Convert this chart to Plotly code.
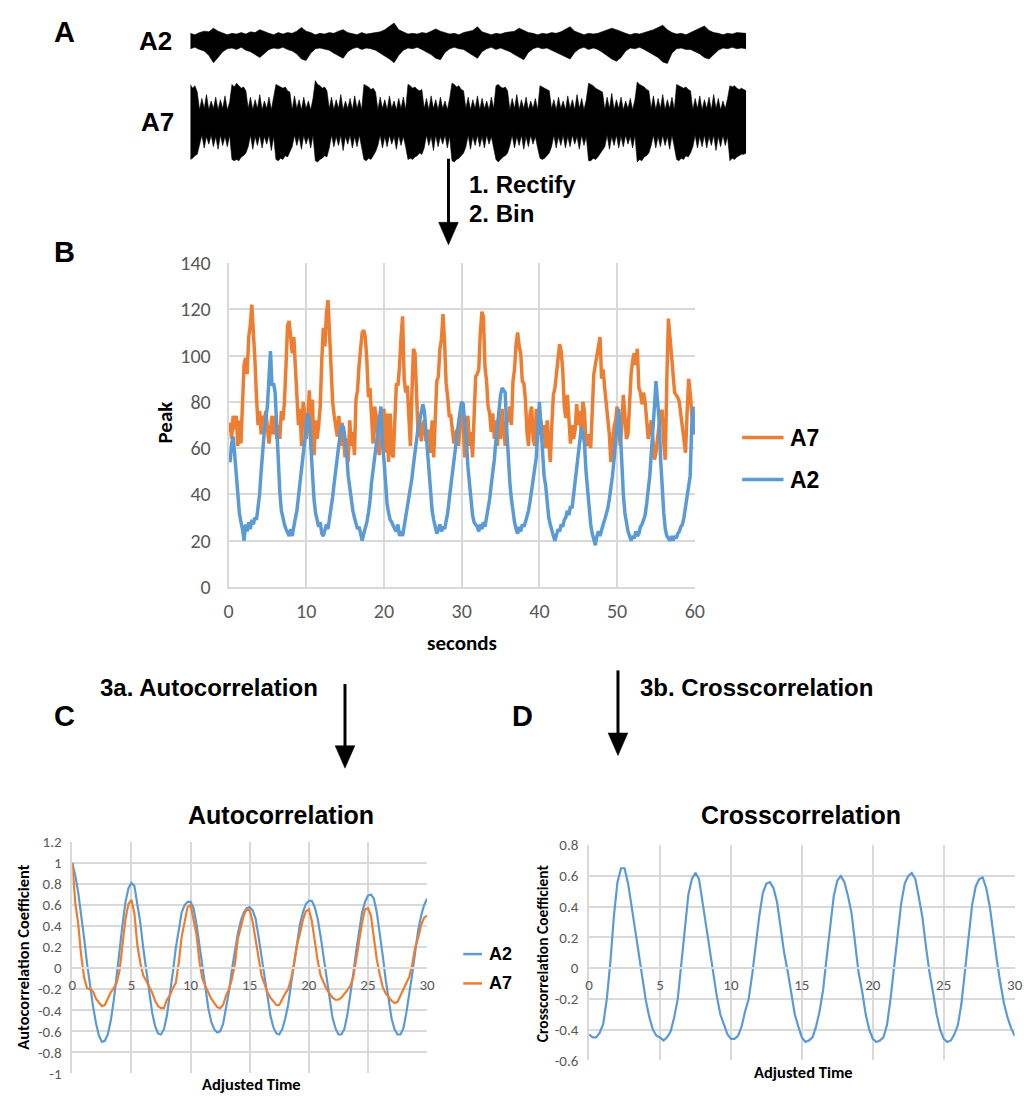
import plotly.graph_objects as go

W, H = 1034, 1105

# ---------------- DATA ----------------
# Panel A: raw-trace envelopes (upper / lower amplitude, arbitrary units)
a2_step = 0.5   # seconds per A2 envelope sample
a2_upper = [1.0, 0.8, 1.1, 1.3, 1.2, 1.7, 1.3, 1.1, 0.8, 1.0,
            0.9, 1.1, 0.9, 1.2, 1.1, 1.5, 1.2, 1.0, 0.8, 1.1,
            0.9, 1.1, 1.0, 1.3, 1.8, 1.3, 1.1, 0.8, 1.0, 0.9,
            1.1, 1.0, 1.3, 1.5, 1.1, 1.0, 0.8, 1.1, 0.9, 1.0,
            1.1, 1.2, 1.5, 1.9, 2.4, 1.5, 1.2, 0.9, 1.0, 0.9,
            1.1, 1.0, 1.3, 1.6, 1.3, 1.1, 0.9, 1.0, 0.8, 1.1,
            1.2, 1.4, 1.9, 1.2, 1.0, 0.8, 1.0, 0.9, 1.1, 1.2,
            1.3, 1.7, 1.4, 1.1, 1.0, 0.8, 1.0, 0.9, 1.1, 1.0,
            1.2, 1.6, 1.9, 1.3, 1.0, 0.8, 1.0, 0.9, 1.0, 1.2,
            1.4, 1.7, 1.5, 1.2, 1.0, 0.8, 1.0, 0.9, 1.1, 1.2,
            1.5, 1.8, 2.1, 1.5, 1.1, 0.9, 1.0, 0.8, 1.1, 1.3,
            1.6, 2.0, 1.4, 1.1, 1.0, 0.8, 1.0, 0.9, 1.1, 1.0,
            1.0]
a2_lower = [-1.1, -0.9, -1.2, -1.4, -2.0, -3.0, -2.3, -1.5, -1.1, -1.0,
            -1.2, -0.9, -1.3, -1.5, -1.9, -2.3, -1.7, -1.2, -1.0, -1.1,
            -0.9, -1.2, -1.4, -1.8, -2.5, -2.7, -1.7, -1.1, -1.0, -1.2,
            -1.3, -1.7, -2.1, -2.4, -1.5, -1.1, -0.9, -1.2, -1.0, -1.1,
            -1.3, -1.6, -2.1, -2.5, -3.0, -2.0, -1.3, -1.0, -1.1, -0.9,
            -1.2, -1.5, -1.9, -2.4, -2.6, -1.6, -1.1, -0.9, -1.1, -1.2,
            -1.5, -2.0, -2.4, -1.5, -1.1, -0.9, -1.2, -1.0, -1.2, -1.5,
            -1.9, -2.3, -2.6, -1.6, -1.1, -0.9, -1.1, -1.0, -1.2, -1.5,
            -1.8, -2.2, -2.5, -1.6, -1.1, -0.9, -1.2, -1.0, -1.2, -1.6,
            -2.0, -2.5, -2.8, -2.3, -1.4, -1.0, -1.1, -0.9, -1.2, -1.5,
            -1.9, -2.3, -2.9, -3.1, -1.7, -1.1, -1.0, -1.2, -1.2, -1.5,
            -1.8, -2.3, -2.5, -1.9, -1.3, -1.0, -1.1, -0.9, -1.1, -1.0,
            -1.1]
a7_step = 0.25  # seconds per A7 envelope sample
a7_upper = [3.0, 2.7, 2.9, 2.4, 1.0, 1.9, 1.1, 2.2, 1.0, 1.7, 1.1, 2.0, 1.0, 1.8, 1.1, 2.1, 1.0, 1.6, 3.0, 2.8,
            3.1, 2.9, 2.7, 2.8, 2.5, 1.1, 2.0, 1.0, 1.8, 1.1, 2.2, 1.0, 1.7, 1.1, 2.0, 1.0, 1.9, 3.0, 2.9, 2.8,
            2.7, 2.8, 2.5, 2.4, 1.0, 2.1, 1.1, 1.8, 1.0, 2.0, 1.1, 1.7, 1.0, 1.9, 3.3, 3.0, 2.9, 2.7, 2.8, 2.5,
            1.1, 2.0, 1.0, 1.8, 1.1, 2.2, 1.0, 1.7, 1.1, 1.9, 1.0, 2.1, 1.1, 1.8, 1.0, 3.0, 2.9, 2.8, 2.6, 2.7,
            2.4, 1.0, 2.0, 1.1, 1.8, 1.0, 2.1, 1.1, 1.7, 1.0, 1.9, 1.1, 2.0, 1.0, 3.0, 2.9, 2.7, 2.8, 2.6, 2.5,
            2.6, 1.1, 1.9, 1.0, 2.1, 1.1, 1.8, 1.0, 2.0, 1.1, 1.7, 1.0, 1.9, 3.1, 3.0, 2.8, 2.9, 2.6, 2.5, 1.1,
            2.0, 1.0, 1.8, 1.1, 2.1, 1.0, 1.9, 1.1, 1.7, 1.0, 2.0, 1.1, 2.9, 3.0, 2.8, 2.7, 2.8, 2.5, 1.0, 1.9,
            1.1, 2.2, 1.0, 1.8, 1.1, 2.0, 1.0, 1.7, 1.1, 1.9, 1.0, 2.9, 2.8, 2.7, 2.6, 2.5, 1.1, 1.8, 1.0, 2.0,
            1.1, 1.7, 1.0, 2.1, 1.1, 1.8, 1.0, 2.2, 1.1, 1.9, 1.0, 1.8, 3.1, 3.0, 2.9, 2.7, 2.6, 2.5, 2.4, 1.0,
            2.0, 1.1, 2.3, 1.0, 1.8, 1.1, 2.0, 1.0, 1.7, 1.1, 1.9, 1.0, 1.8, 3.2, 3.0, 2.9, 2.8, 2.6, 2.5, 1.1,
            2.1, 1.0, 1.9, 1.1, 2.2, 1.0, 1.8, 1.1, 2.0, 1.0, 3.0, 2.9, 2.8, 2.7, 2.8, 2.6, 2.5, 1.0, 1.9, 1.1,
            2.1, 1.0, 1.8, 1.1, 2.0, 1.0, 2.2, 1.1, 1.9, 1.0, 1.7, 1.1, 1.9, 2.9, 2.8, 2.9, 2.7, 2.6, 2.7, 2.6,
            2.5]
a7_lower = [-2.9, -2.8, -2.6, -2.5, -1.8, -1.0, -2.0, -1.1, -1.7, -1.0, -1.9, -1.1, -2.1, -1.0, -1.8, -1.1, -1.9, -1.0, -2.9, -3.0,
            -2.9, -3.0, -2.7, -2.6, -2.4, -1.9, -1.0, -2.1, -1.1, -1.8, -1.0, -2.0, -1.1, -1.7, -1.0, -2.2, -1.1, -2.9, -3.0, -2.8,
            -2.9, -2.6, -2.7, -2.3, -1.9, -1.0, -1.8, -1.1, -2.1, -1.0, -1.7, -1.1, -2.0, -1.0, -3.0, -3.1, -2.9, -2.8, -2.6, -2.7,
            -2.0, -1.0, -1.9, -1.1, -1.8, -1.0, -2.2, -1.1, -1.7, -1.0, -2.0, -1.1, -1.9, -1.0, -1.8, -2.9, -3.0, -2.8, -2.9, -2.6,
            -2.3, -1.8, -1.0, -2.0, -1.1, -1.9, -1.0, -1.7, -1.1, -2.1, -1.0, -1.8, -1.1, -1.9, -2.9, -2.8, -2.9, -2.7, -2.6, -2.4,
            -2.5, -2.0, -1.0, -1.8, -1.1, -2.2, -1.0, -1.9, -1.1, -1.7, -1.0, -2.0, -1.1, -3.0, -3.1, -2.9, -2.8, -2.6, -2.4, -1.9,
            -1.0, -2.1, -1.1, -1.8, -1.0, -1.9, -1.1, -2.0, -1.0, -1.7, -1.1, -1.9, -2.9, -3.1, -2.9, -2.7, -2.6, -2.4, -1.8, -1.0,
            -2.0, -1.1, -1.8, -1.0, -2.1, -1.1, -1.9, -1.0, -1.7, -1.1, -2.0, -2.8, -2.9, -2.8, -2.6, -2.4, -1.9, -1.0, -2.0, -1.1,
            -1.8, -1.0, -2.0, -1.1, -1.9, -1.0, -1.7, -1.1, -2.1, -1.0, -1.8, -1.1, -3.0, -3.0, -2.8, -2.9, -2.7, -2.5, -2.2, -1.9,
            -1.0, -2.1, -1.1, -1.8, -1.0, -2.0, -1.1, -1.9, -1.0, -1.7, -1.1, -2.0, -1.0, -3.1, -2.9, -3.0, -2.7, -2.6, -2.4, -1.8,
            -1.0, -2.0, -1.1, -1.9, -1.0, -1.8, -1.1, -2.1, -1.0, -1.9, -2.9, -3.0, -2.8, -2.9, -2.6, -2.7, -2.4, -1.9, -1.0, -2.0,
            -1.1, -1.9, -1.0, -2.0, -1.1, -1.8, -1.0, -2.2, -1.1, -1.9, -1.0, -1.8, -1.1, -3.0, -2.8, -2.9, -2.7, -2.6, -2.5, -2.5,
            -2.4]

# Panel B: rectified & binned peak, one value per 0.2 s
b_step = 0.2
b_a7 = [67, 71, 64, 74, 68, 74, 61, 72, 62, 80, 96, 99, 92, 108, 113, 122, 112, 98, 82, 70, 76, 66, 74, 72, 76,
        70, 62, 68, 74, 66, 74, 64, 70, 64, 76, 72, 80, 96, 113, 115, 109, 101, 108, 94, 81, 70, 77, 61, 80, 74,
        64, 72, 85, 62, 81, 57, 72, 64, 70, 78, 98, 112, 104, 118, 124, 108, 90, 80, 74, 70, 65, 74, 61, 71, 62,
        56, 64, 54, 72, 61, 67, 57, 81, 85, 96, 104, 110, 111, 108, 98, 82, 86, 74, 62, 78, 74, 62, 57, 77, 60,
        77, 58, 75, 54, 75, 58, 56, 70, 88, 87, 95, 108, 117, 90, 84, 87, 72, 61, 84, 103, 101, 82, 65, 72, 63,
        70, 72, 63, 66, 68, 58, 72, 56, 78, 89, 91, 103, 107, 118, 106, 88, 82, 74, 74, 68, 62, 66, 68, 61, 74,
        80, 70, 56, 67, 74, 61, 67, 56, 70, 91, 92, 94, 110, 119, 117, 95, 89, 78, 75, 67, 75, 64, 72, 61, 74,
        64, 77, 67, 61, 72, 72, 78, 70, 89, 94, 105, 110, 104, 101, 89, 88, 81, 67, 61, 75, 78, 64, 61, 77, 67,
        66, 72, 64, 70, 60, 72, 62, 54, 70, 83, 86, 92, 100, 105, 102, 94, 78, 73, 83, 74, 62, 70, 64, 68, 79,
        70, 76, 66, 80, 76, 62, 61, 66, 60, 82, 92, 96, 100, 104, 108, 90, 94, 86, 80, 75, 66, 54, 62, 69, 72,
        78, 70, 61, 70, 83, 74, 64, 66, 80, 92, 98, 101, 96, 103, 86, 84, 79, 84, 80, 72, 64, 68, 72, 64, 55,
        58, 66, 70, 76, 76, 62, 55, 90, 116, 108, 100, 92, 84, 83, 82, 80, 74, 69, 62, 58, 75, 90, 84, 76, 66,
        75]
b_a2 = [57, 54, 62, 65, 57, 48, 40, 32, 28, 25, 20, 27, 24, 28, 25, 29, 27, 30, 29, 34, 40, 50, 60, 67, 73,
        78, 90, 102, 87, 88, 84, 68, 52, 41, 33, 29, 27, 25, 23, 22, 25, 22, 26, 29, 33, 39, 45, 50, 56, 61,
        68, 75, 72, 61, 47, 38, 32, 29, 26, 28, 23, 22, 25, 27, 25, 29, 33, 39, 45, 51, 56, 63, 67, 70, 69,
        64, 58, 48, 42, 36, 33, 30, 27, 25, 26, 23, 20, 23, 25, 28, 32, 37, 45, 50, 55, 61, 66, 72, 78, 62,
        55, 43, 36, 32, 29, 28, 26, 25, 24, 27, 22, 24, 22, 26, 30, 33, 37, 42, 47, 53, 59, 66, 69, 72, 75,
        79, 76, 67, 55, 46, 38, 33, 29, 26, 23, 25, 27, 24, 26, 25, 28, 32, 38, 43, 48, 54, 60, 66, 72, 76,
        80, 79, 70, 64, 52, 44, 36, 31, 28, 27, 26, 24, 27, 25, 28, 26, 30, 33, 38, 44, 49, 55, 63, 70, 77,
        83, 86, 85, 84, 68, 55, 45, 38, 32, 28, 25, 23, 26, 24, 27, 26, 28, 30, 33, 37, 42, 46, 50, 56, 68,
        80, 70, 58, 48, 44, 36, 30, 27, 24, 22, 20, 23, 25, 24, 27, 26, 29, 30, 33, 31, 35, 34, 40, 45, 52,
        58, 64, 69, 66, 62, 50, 41, 33, 27, 23, 20, 18, 22, 24, 22, 25, 27, 29, 31, 34, 38, 42, 48, 55, 62,
        72, 77, 68, 50, 40, 32, 27, 24, 22, 20, 22, 21, 24, 22, 23, 26, 27, 29, 31, 36, 42, 48, 58, 66, 78,
        89, 80, 72, 55, 41, 32, 25, 22, 21, 20, 22, 20, 22, 21, 23, 24, 26, 27, 30, 35, 40, 45, 48, 70, 78,
        66]
b_xticks = [0, 10, 20, 30, 40, 50, 60]
b_yticks = [0, 20, 40, 60, 80, 100, 120, 140]

# Panel C: autocorrelation, one value per 0.25 time units
c_step = 0.25
c_a2 = [1.0, 0.88, 0.72, 0.52, 0.28, 0.04, -0.17, -0.36, -0.52, -0.64, -0.7, -0.69, -0.63, -0.5, -0.31, -0.09, 0.17, 0.42, 0.63, 0.76,
        0.81, 0.78, 0.62, 0.43, 0.19, -0.03, -0.25, -0.42, -0.55, -0.62, -0.63, -0.58, -0.45, -0.26, -0.04, 0.19, 0.38, 0.53, 0.6, 0.63,
        0.63, 0.57, 0.42, 0.22, 0.0, -0.2, -0.38, -0.51, -0.58, -0.61, -0.6, -0.53, -0.38, -0.22, -0.01, 0.16, 0.33, 0.45, 0.53, 0.57,
        0.58, 0.55, 0.47, 0.3, 0.1, -0.1, -0.3, -0.45, -0.56, -0.62, -0.63, -0.58, -0.48, -0.35, -0.15, 0.05, 0.25, 0.42, 0.53, 0.61,
        0.64, 0.64, 0.58, 0.47, 0.3, 0.1, -0.12, -0.3, -0.47, -0.57, -0.63, -0.63, -0.58, -0.45, -0.27, -0.06, 0.16, 0.37, 0.53, 0.63,
        0.69, 0.7, 0.66, 0.53, 0.34, 0.12, -0.11, -0.32, -0.48, -0.58, -0.63, -0.63, -0.57, -0.42, -0.25, -0.05, 0.16, 0.36, 0.5, 0.6,
        0.66]
c_a7 = [1.0, 0.62, 0.42, 0.12, -0.09, -0.19, -0.2, -0.22, -0.29, -0.33, -0.36, -0.35, -0.29, -0.23, -0.19, -0.14, -0.02, 0.23, 0.47, 0.61,
        0.65, 0.52, 0.22, 0.05, -0.07, -0.12, -0.18, -0.23, -0.31, -0.36, -0.38, -0.38, -0.3, -0.26, -0.19, -0.14, 0.05, 0.3, 0.44, 0.58,
        0.6, 0.47, 0.32, 0.06, -0.1, -0.17, -0.23, -0.29, -0.33, -0.37, -0.38, -0.35, -0.26, -0.2, -0.1, 0.04, 0.28, 0.39, 0.5, 0.56,
        0.55, 0.44, 0.28, 0.08, -0.07, -0.15, -0.23, -0.28, -0.31, -0.35, -0.35, -0.29, -0.24, -0.2, -0.1, 0.04, 0.22, 0.33, 0.46, 0.54,
        0.56, 0.45, 0.26, 0.07, -0.07, -0.13, -0.2, -0.24, -0.28, -0.3, -0.3, -0.28, -0.25, -0.21, -0.17, -0.09, 0.08, 0.27, 0.43, 0.56,
        0.57, 0.5, 0.3, 0.08, -0.06, -0.18, -0.24, -0.28, -0.31, -0.33, -0.32, -0.26, -0.2, -0.14, -0.08, 0.04, 0.2, 0.29, 0.41, 0.48,
        0.5]
c_xticks = [0, 5, 10, 15, 20, 25, 30]
c_yticks = [1.2, 1, 0.8, 0.6, 0.4, 0.2, 0, -0.2, -0.4, -0.6, -0.8, -1]
c_ytick_labels = ["1.2", "1", "0.8", "0.6", "0.4", "0.2", "0", "-0.2", "-0.4", "-0.6", "-0.8", "-1"]

# Panel D: crosscorrelation, one value per 0.25 time units
d_step = 0.25
d_xc = [-0.43, -0.45, -0.45, -0.42, -0.36, -0.2, 0.04, 0.34, 0.56, 0.65, 0.65, 0.55, 0.4, 0.24, 0.08, -0.07, -0.21, -0.32, -0.4, -0.44,
        -0.45, -0.47, -0.45, -0.41, -0.32, -0.2, 0.03, 0.25, 0.48, 0.58, 0.62, 0.58, 0.43, 0.28, 0.1, -0.04, -0.18, -0.3, -0.37, -0.43,
        -0.46, -0.46, -0.44, -0.38, -0.28, -0.2, -0.04, 0.16, 0.34, 0.49, 0.55, 0.56, 0.52, 0.43, 0.27, 0.1, -0.02, -0.17, -0.3, -0.38,
        -0.45, -0.48, -0.47, -0.45, -0.38, -0.28, -0.14, 0.07, 0.29, 0.47, 0.57, 0.6, 0.56, 0.47, 0.36, 0.18, -0.03, -0.15, -0.3, -0.4,
        -0.46, -0.48, -0.47, -0.45, -0.37, -0.2, 0.0, 0.2, 0.42, 0.55, 0.6, 0.62, 0.58, 0.46, 0.33, 0.14, -0.03, -0.16, -0.3, -0.4,
        -0.46, -0.48, -0.47, -0.43, -0.37, -0.23, -0.02, 0.19, 0.41, 0.53, 0.58, 0.59, 0.52, 0.4, 0.22, 0.05, -0.1, -0.23, -0.32, -0.39,
        -0.44]
d_xticks = [0, 5, 10, 15, 20, 25, 30]
d_yticks = [0.8, 0.6, 0.4, 0.2, 0, -0.2, -0.4, -0.6]
d_ytick_labels = ["0.8", "0.6", "0.4", "0.2", "0", "-0.2", "-0.4", "-0.6"]

# ---------------- STYLE ----------------
ORANGE = "#ED7D31"
BLUE = "#5B9BD5"
GRID = "#D9D9D9"
TICKC = "#595959"
HELV = "Liberation Sans, Arial, sans-serif"
XL = "Carlito, Calibri, Lato, sans-serif"


def dom_x(x0, x1):
    return [x0 / W, x1 / W]


def dom_y(y0, y1):
    return [1 - y1 / H, 1 - y0 / H]


def px(x):
    return x / W


def py(y):
    return 1 - y / H


a2_t = [i * a2_step for i in range(len(a2_upper))]
a7_t = [i * a7_step for i in range(len(a7_upper))]
b_t = [round(i * b_step, 2) for i in range(len(b_a7))]
c_t = [i * c_step for i in range(len(c_a2))]
d_t = [i * d_step for i in range(len(d_xc))]

fig = go.Figure()

# Panel A traces (filled envelopes)
for tt, up, lo, xa, ya in [(a2_t, a2_upper, a2_lower, "x", "y"), (a7_t, a7_upper, a7_lower, "x2", "y2")]:
    fig.add_trace(go.Scatter(x=tt + tt[::-1], y=up + lo[::-1], mode="lines", fill="toself",
                             fillcolor="black", line=dict(color="black", width=0.6),
                             xaxis=xa, yaxis=ya, hoverinfo="skip", showlegend=False))

# Panel B
fig.add_trace(go.Scatter(x=b_t, y=b_a7, mode="lines", name="A7", line=dict(color=ORANGE, width=3.5),
                         xaxis="x3", yaxis="y3", showlegend=False))
fig.add_trace(go.Scatter(x=b_t, y=b_a2, mode="lines", name="A2", line=dict(color=BLUE, width=3.5),
                         xaxis="x3", yaxis="y3", showlegend=False))

# Panel C
fig.add_trace(go.Scatter(x=c_t, y=c_a2, mode="lines", name="A2", line=dict(color=BLUE, width=2.2),
                         xaxis="x4", yaxis="y4", showlegend=False))
fig.add_trace(go.Scatter(x=c_t, y=c_a7, mode="lines", name="A7", line=dict(color=ORANGE, width=2.2),
                         xaxis="x4", yaxis="y4", showlegend=False))

# Panel D
fig.add_trace(go.Scatter(x=d_t, y=d_xc, mode="lines", name="A2 x A7", line=dict(color=BLUE, width=2.2),
                         xaxis="x5", yaxis="y5", showlegend=False))

# domains
bx = dom_x(226.8, 700)
by = dom_y(256.7, 587.7)
cx = dom_x(68.3, 428.3)
cy = dom_y(848.3, 1085)
dxd = dom_x(592.7, 1024.5)
dyd = dom_y(851.7, 1071.7)
c_zero = cy[0] + (0 - (-1)) / 2.2 * (cy[1] - cy[0])
d_zero = dyd[0] + (0 - (-0.6)) / 1.4 * (dyd[1] - dyd[0])

hidden = dict(visible=False, showgrid=False, zeroline=False, fixedrange=True)


def grid_axis(**kw):
    base = dict(showgrid=True, gridcolor=GRID, gridwidth=1.5, showline=True, linecolor=GRID,
                linewidth=1.5, zeroline=False, ticks="", fixedrange=True)
    base.update(kw)
    return base


fig.update_layout(
    width=W, height=H, autosize=False,
    margin=dict(l=0, r=0, t=0, b=0),
    paper_bgcolor="white", plot_bgcolor="white",
    hovermode=False, showlegend=False,
    xaxis=dict(domain=dom_x(188, 752), range=[0, 60], anchor="y", **hidden),
    yaxis=dict(domain=dom_y(5, 60), range=[-4.09, 3.24], anchor="x", **hidden),
    xaxis2=dict(domain=dom_x(188, 752), range=[0, 60], anchor="y2", **hidden),
    yaxis2=dict(domain=dom_y(60, 158), range=[-3.46, 4.08], anchor="x2", **hidden),
    xaxis3=grid_axis(domain=bx, range=[0, 60], anchor="y3", tickvals=b_xticks,
                     tickfont=dict(family=XL, size=20, color=TICKC), ticklabelstandoff=5),
    yaxis3=grid_axis(domain=by, range=[0, 140], anchor="x3", tickvals=b_yticks,
                     tickfont=dict(family=XL, size=20, color=TICKC), ticklabelstandoff=12),
    xaxis4=grid_axis(domain=cx, range=[0, 30], anchor="free", position=c_zero, tickvals=c_xticks,
                     tickfont=dict(family=XL, size=15, color=TICKC), ticklabelstandoff=3),
    yaxis4=grid_axis(domain=cy, range=[-1, 1.2], anchor="x4", tickvals=c_yticks, ticktext=c_ytick_labels,
                     tickfont=dict(family=XL, size=15, color=TICKC), ticklabelstandoff=6),
    xaxis5=grid_axis(domain=dxd, range=[0, 30], anchor="free", position=d_zero, tickvals=d_xticks,
                     tickfont=dict(family=XL, size=15, color=TICKC), ticklabelstandoff=3),
    yaxis5=grid_axis(domain=dyd, range=[-0.6, 0.8], anchor="x5", tickvals=d_yticks, ticktext=d_ytick_labels,
                     tickfont=dict(family=XL, size=15, color=TICKC), ticklabelstandoff=6),
)

annotations = []


def txt(text, x, y, size, family, color="black", xanchor="center", angle=0):
    annotations.append(dict(text=text, x=px(x), y=py(y), xref="paper", yref="paper",
                            xanchor=xanchor, yanchor="middle", showarrow=False, textangle=angle,
                            font=dict(family=family, size=size, color=color)))


# panel letters
txt("<b>A</b>", 60, 20, 29, HELV)
txt("<b>B</b>", 60, 245, 29, HELV)
txt("<b>C</b>", 60, 720, 29, HELV)
txt("<b>D</b>", 525, 720, 29, HELV)
# trace labels
txt("<b>A2</b>", 153, 30, 26, HELV)
txt("<b>A7</b>", 155, 112, 26, HELV)
# step labels
txt("<b>1. Rectify</b>", 469, 176, 24, HELV, xanchor="left")
txt("<b>2. Bin</b>", 469, 206, 24, HELV, xanchor="left")
txt("<b>3a. Autocorrelation</b>", 94, 691, 24, HELV, xanchor="left")
txt("<b>3b. Crosscorrelation</b>", 642, 691, 24, HELV, xanchor="left")
# panel B titles / legend
txt("<b>Peak</b>", 162, 420, 21, XL, angle=-90)
txt("<b>seconds</b>", 464, 645, 21, XL)
txt("<b>A7</b>", 795, 435, 23, HELV, xanchor="left")
txt("<b>A2</b>", 795, 478, 23, HELV, xanchor="left")
# panel C
txt("<b>Autocorrelation</b>", 280, 821, 25, HELV)
txt("<b>Autocorrelation Coefficient</b>", 18, 966, 16.5, XL, angle=-90)
txt("<b>Adjusted Time</b>", 250, 1096, 16.5, XL)
txt("<b>A2</b>", 489, 963, 18, HELV, xanchor="left")
txt("<b>A7</b>", 489, 993, 18, HELV, xanchor="left")
# panel D
txt("<b>Crosscorrelation</b>", 808, 821, 25, HELV)
txt("<b>Crosscorrelation Coefficient</b>", 545, 962, 15.5, XL, angle=-90)
txt("<b>Adjusted Time</b>", 810, 1084, 16.5, XL)

shapes = []


def hline(x0, x1, y, color, width):
    shapes.append(dict(type="line", xref="paper", yref="paper", x0=px(x0), x1=px(x1), y0=py(y), y1=py(y),
                       line=dict(color=color, width=width)))


def arrow(x, y0, y1, head=23, half=10):
    shapes.append(dict(type="line", xref="paper", yref="paper", x0=px(x), x1=px(x), y0=py(y0),
                       y1=py(y1 - head + 2), line=dict(color="black", width=3)))
    path = "M {},{} L {},{} L {},{} Z".format(px(x - half), py(y1 - head), px(x + half), py(y1 - head),
                                            px(x), py(y1))
    shapes.append(dict(type="path", xref="paper", yref="paper", path=path, fillcolor="black",
                       line=dict(color="black", width=0.5)))


hline(748, 790, 435, ORANGE, 3.5)
hline(748, 790, 478, BLUE, 3.5)
hline(465, 484, 963, BLUE, 2.5)
hline(465, 484, 993, ORANGE, 2.5)
arrow(450, 150, 238)
arrow(345, 687, 773)
arrow(622, 673, 760)

fig.update_layout(annotations=annotations, shapes=shapes)

fig.write_html("out.html", config={"displayModeBar": False},
               post_script="document.body.style.margin='0';document.body.style.overflow='hidden';")
